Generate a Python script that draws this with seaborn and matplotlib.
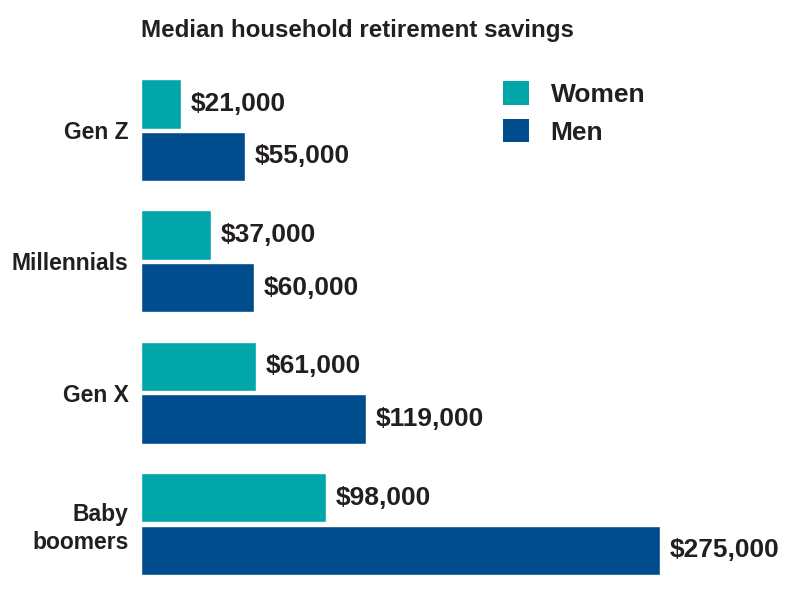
import matplotlib
matplotlib.use("Agg")
import matplotlib.pyplot as plt
from matplotlib.patches import Patch
import pandas as pd
import seaborn as sns

# Daten
generations = ["Gen Z", "Millennials", "Gen X", "Baby\nboomers"]
women = [21000, 37000, 61000, 98000]
men = [55000, 60000, 119000, 275000]
groups = ["Women", "Men"]
colors = {"Women": "#00A6A9", "Men": "#004C8C"}
text_col = "#231F20"

df = pd.DataFrame({
    "generation": generations * 2,
    "savings": women + men,
    "group": ["Women"] * len(women) + ["Men"] * len(men),
})

sns.set_style("white")
plt.rcParams["font.family"] = ["Liberation Sans", "DejaVu Sans"]
plt.rcParams["font.weight"] = "bold"

fig = plt.figure(figsize=(8, 6.01), dpi=100)
ax = fig.add_axes([141 / 800, 0.019, (790 - 141) / 800, 0.8737])

sns.barplot(data=df, y="generation", x="savings", hue="group", hue_order=groups,
            order=generations, palette=colors, orient="h", width=0.8, gap=0.06,
            saturation=1, legend=False, ax=ax)

ax.set_xlim(0, 275000 * 649 / 519)
ax.set_ylim(3.5, -0.5)
for side in ["top", "right", "bottom", "left"]:
    ax.spines[side].set_visible(False)
ax.set_xticks([])
ax.set_xlabel("")
ax.set_ylabel("")
ax.tick_params(axis="y", length=0, pad=9, labelsize=16.5, labelcolor=text_col)
for lbl in ax.get_yticklabels():
    lbl.set_fontweight("bold")
    lbl.set_linespacing(1.25)

# Werte an die Balken
for cont in ax.containers:
    ax.bar_label(cont, labels=[f"${v:,.0f}" for v in cont.datavalues], padding=7,
                 fontsize=19, fontweight="bold", color=text_col)

# Legende
handles = [Patch(facecolor=colors[g], edgecolor="none") for g in groups]
leg = fig.legend(handles, groups, loc="upper left", bbox_to_anchor=(503 / 800, 1 - 81 / 601),
                 frameon=False, borderpad=0, borderaxespad=0, handlelength=1.0, handleheight=1.0,
                 handletextpad=0.8, labelspacing=0.45, prop={"size": 19, "weight": "bold"})
for t in leg.get_texts():
    t.set_color(text_col)

fig.text(141 / 800, 1 - 30 / 601, "Median household retirement savings", fontsize=17.4,
         fontweight="bold", color=text_col, va="center", ha="left")

fig.savefig("out.png", dpi=100, facecolor="white")
